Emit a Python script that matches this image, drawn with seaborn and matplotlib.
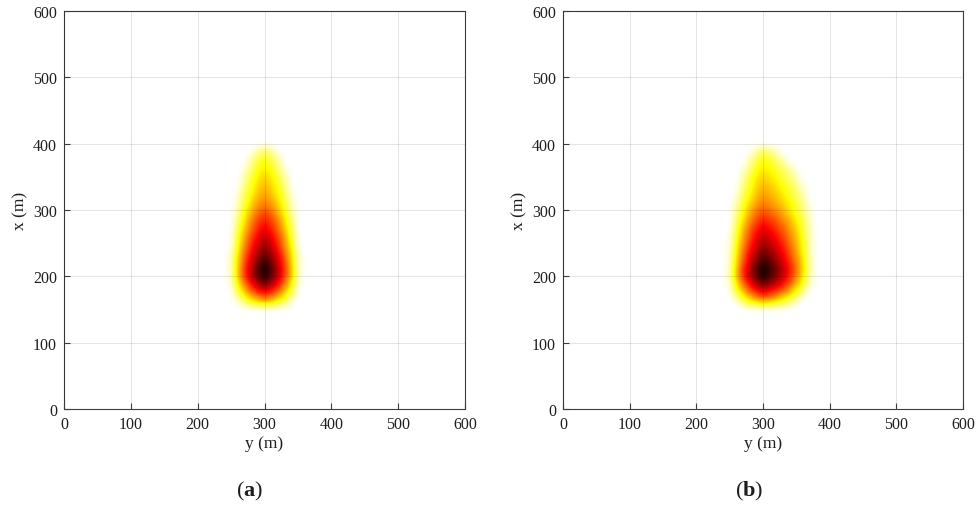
import numpy as np
import matplotlib
matplotlib.use("Agg")
import matplotlib.pyplot as plt
import seaborn as sns

# Grid of the concentration field: downwind distance x (rows) and
# crosswind position y (columns), both in metres.
x_rows = [150, 160, 170, 180, 190, 200, 210, 220, 230, 240, 250, 260, 270,
          280, 290, 300, 310, 320, 330, 340, 350, 360, 370, 380, 390, 400]
y_cols = [240, 250, 260, 270, 280, 290, 300, 310, 320, 330, 340, 350, 360, 370, 380]

# Normalised concentration, case (a)
conc_a = [
    [0, 0, 0, 0, 0, 0, 0, 0, 0, 0, 0, 0, 0, 0, 0],
    [0, 0, .02, .12, .21, .26, .30, .26, .21, .12, .02, 0, 0, 0, 0],
    [0, 0, .12, .26, .37, .46, .52, .46, .37, .26, .12, 0, 0, 0, 0],
    [0, .01, .21, .37, .51, .62, .70, .62, .51, .37, .21, .01, 0, 0, 0],
    [0, .03, .28, .46, .63, .77, .86, .77, .63, .46, .28, .03, 0, 0, 0],
    [0, .06, .33, .53, .72, .86, .97, .86, .72, .53, .33, .06, 0, 0, 0],
    [0, .06, .34, .55, .74, .89, 1.0, .89, .74, .55, .34, .06, 0, 0, 0],
    [0, .06, .32, .52, .70, .85, .95, .85, .70, .52, .32, .06, 0, 0, 0],
    [0, .05, .30, .49, .66, .79, .89, .79, .66, .49, .30, .05, 0, 0, 0],
    [0, .03, .27, .45, .61, .74, .83, .74, .61, .45, .27, .03, 0, 0, 0],
    [0, .01, .23, .41, .57, .69, .78, .69, .57, .41, .23, .01, 0, 0, 0],
    [0, .01, .22, .39, .53, .65, .73, .65, .53, .39, .22, .01, 0, 0, 0],
    [0, 0, .18, .34, .48, .60, .67, .60, .48, .34, .18, 0, 0, 0, 0],
    [0, 0, .15, .31, .45, .55, .62, .55, .45, .31, .15, 0, 0, 0, 0],
    [0, 0, .12, .27, .40, .51, .57, .51, .40, .27, .12, 0, 0, 0, 0],
    [0, 0, .09, .24, .35, .45, .50, .45, .35, .24, .09, 0, 0, 0, 0],
    [0, 0, .06, .20, .31, .40, .45, .40, .31, .20, .06, 0, 0, 0, 0],
    [0, 0, .04, .18, .27, .36, .41, .36, .27, .18, .04, 0, 0, 0, 0],
    [0, 0, .02, .15, .24, .33, .38, .33, .24, .15, .02, 0, 0, 0, 0],
    [0, 0, 0, .12, .22, .30, .35, .30, .22, .12, 0, 0, 0, 0, 0],
    [0, 0, 0, .09, .19, .28, .32, .28, .19, .09, 0, 0, 0, 0, 0],
    [0, 0, 0, .04, .15, .24, .29, .24, .15, .04, 0, 0, 0, 0, 0],
    [0, 0, 0, .01, .12, .21, .26, .21, .12, .01, 0, 0, 0, 0, 0],
    [0, 0, 0, 0, .07, .16, .22, .16, .07, 0, 0, 0, 0, 0, 0],
    [0, 0, 0, 0, 0, .08, .14, .08, 0, 0, 0, 0, 0, 0, 0],
    [0, 0, 0, 0, 0, 0, 0, 0, 0, 0, 0, 0, 0, 0, 0],
]

# Normalised concentration, case (b)
conc_b = [
    [0, 0, 0, 0, 0, 0, 0, 0, 0, 0, 0, 0, 0, 0, 0],
    [0, 0, .02, .12, .21, .26, .30, .27, .23, .17, .11, .03, 0, 0, 0],
    [0, 0, .13, .27, .38, .47, .53, .48, .42, .34, .26, .16, .04, 0, 0],
    [0, .03, .23, .38, .52, .63, .71, .65, .58, .50, .39, .28, .14, .01, 0],
    [0, .05, .30, .48, .64, .77, .87, .80, .72, .63, .50, .37, .23, .05, 0],
    [0, .08, .35, .55, .73, .87, .97, .89, .81, .70, .57, .43, .27, .07, 0],
    [0, .08, .36, .57, .75, .90, 1.0, .93, .84, .73, .60, .46, .30, .09, 0],
    [0, .06, .32, .52, .70, .85, .95, .88, .80, .69, .57, .44, .29, .09, 0],
    [0, .05, .30, .49, .66, .79, .89, .83, .75, .65, .53, .41, .27, .08, 0],
    [0, .05, .28, .46, .61, .74, .83, .77, .70, .61, .50, .38, .25, .07, 0],
    [0, .03, .25, .42, .57, .69, .78, .73, .66, .57, .47, .36, .23, .07, 0],
    [0, .03, .23, .39, .53, .65, .73, .68, .61, .53, .44, .34, .22, .07, 0],
    [0, .01, .20, .36, .50, .61, .68, .63, .57, .50, .41, .31, .20, .06, 0],
    [0, 0, .17, .32, .45, .55, .62, .58, .52, .45, .37, .29, .19, .06, 0],
    [0, 0, .13, .28, .40, .50, .56, .52, .47, .40, .33, .25, .16, .04, 0],
    [0, 0, .12, .25, .36, .45, .50, .46, .42, .36, .29, .22, .13, .03, 0],
    [0, 0, .08, .21, .31, .40, .45, .41, .37, .32, .26, .19, .11, .02, 0],
    [0, 0, .04, .18, .27, .36, .41, .38, .34, .29, .23, .16, .08, 0, 0],
    [0, 0, .02, .15, .24, .33, .38, .35, .31, .26, .20, .14, .05, 0, 0],
    [0, 0, 0, .12, .22, .30, .35, .32, .28, .22, .17, .10, .02, 0, 0],
    [0, 0, 0, .09, .19, .28, .32, .29, .25, .19, .14, .06, 0, 0, 0],
    [0, 0, 0, .04, .15, .24, .29, .26, .21, .16, .10, .02, 0, 0, 0],
    [0, 0, 0, 0, .11, .20, .26, .23, .17, .11, .03, 0, 0, 0, 0],
    [0, 0, 0, 0, .05, .16, .22, .18, .12, .03, 0, 0, 0, 0, 0],
    [0, 0, 0, 0, 0, .07, .14, .10, .04, 0, 0, 0, 0, 0, 0],
    [0, 0, 0, 0, 0, 0, 0, 0, 0, 0, 0, 0, 0, 0, 0],
]

axis_ticks = [0, 100, 200, 300, 400, 500, 600]
panel_tags = ["a", "b"]

sns.set_theme(style="white")
plt.rcParams["font.family"] = ["Liberation Serif", "DejaVu Serif"]
plt.rcParams["mathtext.fontset"] = "custom"
plt.rcParams["mathtext.rm"] = "Liberation Serif"
plt.rcParams["mathtext.bf"] = "Liberation Serif:bold"

W, H = 980, 506
fig = plt.figure(figsize=(W / 100, H / 100), dpi=100)
cmap = sns.color_palette("hot_r", as_cmap=True)
ink = "#3c3c3c"
text_ink = "#1e1e1e"

# panel boxes in pixels: left, top, width, height ; caption centre x
layout = [((64, 12, 401, 398), 250), ((563, 12, 400, 398), 749)]
half = 5  # half cell size in metres

for conc, tag, ((l, t, w, h), cap_x) in zip([conc_a, conc_b], panel_tags, layout):
    ax = fig.add_axes([l / W, 1 - (t + h) / H, w / W, h / H])
    ax.imshow(np.array(conc, dtype=float), origin="lower", cmap=cmap,
              vmin=0, vmax=1, aspect="auto",
              extent=[y_cols[0] - half, y_cols[-1] + half,
                      x_rows[0] - half, x_rows[-1] + half],
              interpolation="bicubic", interpolation_stage="data", zorder=0)
    ax.set_xlim(0, 600)
    ax.set_ylim(0, 600)
    ax.set_xticks(axis_ticks)
    ax.set_yticks(axis_ticks)
    ax.grid(True, color="black", alpha=0.1, lw=0.8)
    ax.set_axisbelow(False)
    for s in ax.spines.values():
        s.set_visible(True)
        s.set_color(ink)
        s.set_linewidth(0.8)
    ax.tick_params(direction="in", length=4, width=0.8, color=ink,
                   bottom=True, left=True, labelsize=11.5, pad=5,
                   labelcolor=text_ink)
    ax.set_xlabel("y (m)", fontsize=12.5, labelpad=2, color=text_ink)
    ax.set_ylabel("x (m)", fontsize=12.5, labelpad=3, color=text_ink)
    fig.text(cap_x / W, 1 - 491 / H, "($\\mathbf{" + tag + "}$)",
             ha="center", va="center", fontsize=16, color=text_ink)

fig.savefig("out.png", dpi=100, facecolor="white")
